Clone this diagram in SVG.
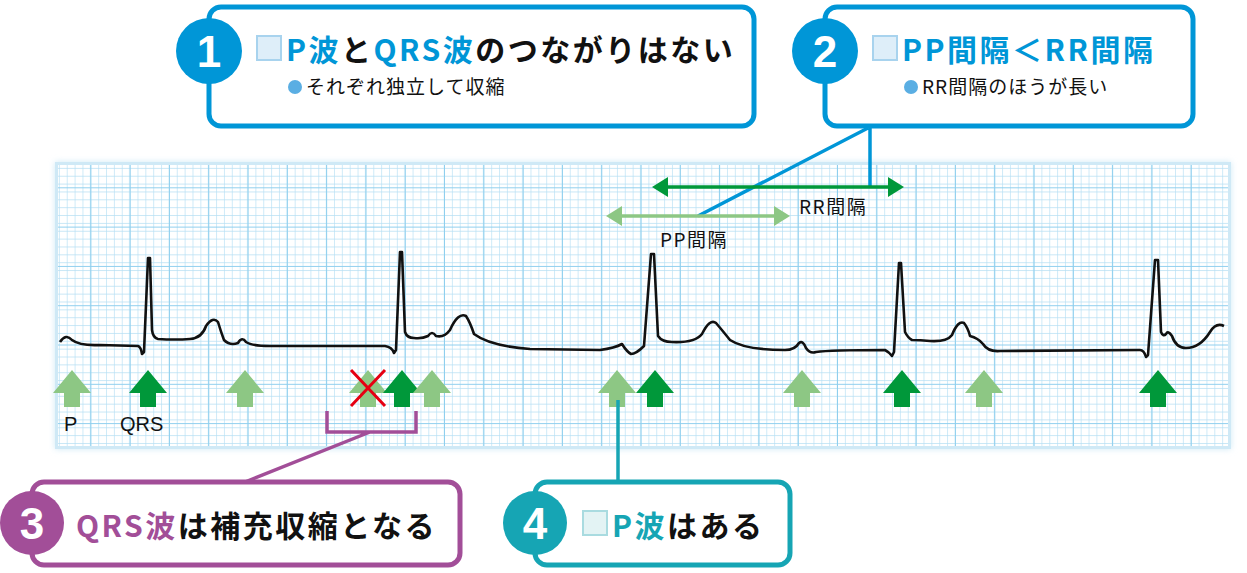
<svg xmlns="http://www.w3.org/2000/svg" width="1247" height="573" viewBox="0 0 1247 573">
<defs>
<style>
.jp{font-family:"Noto Sans CJK JP","Liberation Sans",sans-serif}
.lbl{font-family:"Liberation Sans","Noto Sans CJK JP",sans-serif;font-size:20px;fill:#111}
.box{fill:#fff;stroke-width:5}
.num{font-family:"Liberation Sans",sans-serif;font-weight:bold;font-size:44px;fill:#fff;text-anchor:middle}
.pa{fill:#8dc784}.qa{fill:#00983a}
.t{font-size:30px;font-weight:bold;letter-spacing:2.5px}
.s{font-size:19px;fill:#111;letter-spacing:1px}
</style>
<pattern id="minor" width="7.86" height="7.86" patternUnits="userSpaceOnUse" x="52" y="161">
<path d="M7.86 0V7.86M0 7.86H7.86" stroke="#b6dff4" stroke-width="1.3" fill="none"/>
</pattern>
<pattern id="major" width="39.3" height="39.3" patternUnits="userSpaceOnUse" x="52" y="149">
<path d="M39.3 0V39.3M0 39.3H39.3" stroke="#8fcfee" stroke-width="2.2" fill="none"/>
</pattern>
<path id="arr" d="M-19 23L0 0L19 23H8V37H-8V23Z"/>
<filter id="sh" x="-5%" y="-10%" width="110%" height="120%"><feGaussianBlur stdDeviation="3"/></filter>
</defs>
<rect width="1247" height="573" fill="#fff"/>
<g id="grid">
<rect x="55" y="162" width="1176" height="287" fill="#cfe9f6" filter="url(#sh)"/>
<rect x="55" y="162" width="1176" height="287" fill="#fff"/>
<rect x="58" y="165" width="1170" height="281" fill="url(#minor)"/>
<rect x="58" y="165" width="1170" height="281" fill="url(#major)"/>
<rect x="56.5" y="163.5" width="1173" height="284" fill="none" stroke="#cfe9f6" stroke-width="3"/>
</g>
<path id="ecg" fill="none" stroke="#111" stroke-width="2.6" stroke-linejoin="round" d="M60 342Q66 333 72 340Q80 346 100 345L138 346Q141 347 142 354L144 352L148 258L150 258L152 330Q153 338 158 339Q175 340 190 339Q202 338 206 326Q213 316 218 322Q221 332 224 340Q230 346 238 343Q242 336 246 342Q252 346 270 346L385 346Q392 347 394 353L396 350L400 252L402 252L405 332Q407 338 414 338Q422 339 428 336Q432 330 436 336Q444 338 450 330Q458 312 466 316Q470 322 474 334Q490 346 530 349L600 350Q615 348 622 344Q627 352 631 354Q636 354 644 346L651 254L654 254L658 336Q662 342 672 342Q695 343 702 334Q710 318 716 323Q722 330 730 340Q745 350 785 350Q795 350 799 343Q803 340 806 348Q810 354 816 352Q830 350 885 350Q889 352 892 356L894 352L899 263L901 263L905 332Q908 338 912 340Q920 340 930 341Q947 342 952 335Q958 320 964 323Q968 328 970 336Q978 338 983 344Q988 352 1000 351L1140 350Q1144 350 1146 357L1148 355L1155 260L1158 260L1161 332Q1163 337 1166 334Q1168 330 1172 336Q1176 348 1186 348Q1200 348 1210 332Q1216 322 1224 326"/>
<g id="arrows">
<use href="#arr" class="pa" x="72" y="370"/>
<use href="#arr" class="qa" x="148" y="370"/>
<use href="#arr" class="pa" x="245" y="370"/>
<use href="#arr" class="pa" x="368" y="370"/>
<use href="#arr" class="qa" x="402" y="370"/>
<use href="#arr" class="pa" x="432" y="370"/>
<use href="#arr" class="pa" x="617" y="370"/>
<use href="#arr" class="qa" x="655" y="370"/>
<use href="#arr" class="pa" x="802" y="370"/>
<use href="#arr" class="qa" x="902" y="370"/>
<use href="#arr" class="pa" x="984" y="370"/>
<use href="#arr" class="qa" x="1158" y="370"/>
<path d="M351 370L385 406M385 370L351 406" stroke="#e60012" stroke-width="3"/>
</g>
<text class="lbl" x="64" y="431">P</text>
<text class="lbl" x="120" y="431">QRS</text>
<g id="connectors" fill="none">
<path d="M327 411V432H416V411M370 432L245 482" stroke="#a24e98" stroke-width="3.5"/>
<path d="M618 400V485" stroke="#16a5b4" stroke-width="3.5"/>
<path d="M870 127V187M868 128L698 216" stroke="#0096d7" stroke-width="3.5"/>
<path d="M662 187H892" stroke="#00983a" stroke-width="3.5"/>
<path d="M652 187L668 177V197ZM904 187L888 177V197Z" fill="#00983a"/>
<path d="M616 216H778" stroke="#8dc784" stroke-width="3.5"/>
<path d="M606 216L622 206V226ZM790 216L774 206V226Z" fill="#8dc784"/>
</g>
<text class="jp" x="799" y="214" font-size="19" fill="#111" letter-spacing="1.5">RR間隔</text>
<text class="jp" x="660" y="247" font-size="19" fill="#111" letter-spacing="1.5">PP間隔</text>
<g id="node1">
<rect class="box" x="209" y="7" width="545" height="119" rx="12" stroke="#0096d7"/>
<circle cx="209" cy="51" r="33" fill="#0096d7"/>
<text class="num" x="209" y="67">1</text>
<rect x="257" y="36" width="24" height="24" fill="#deeef9" stroke="#a8d3ee" stroke-width="2"/>
<text class="jp t" x="286" y="61" fill="#0096d7">P波<tspan fill="#111">と</tspan>QRS波<tspan fill="#111">のつながりはない</tspan></text>
<circle cx="295" cy="87" r="7" fill="#5aaee3"/>
<text class="jp s" x="306" y="94">それぞれ独立して収縮</text>
</g>
<g id="node2">
<rect class="box" x="825" y="7" width="368" height="119" rx="12" stroke="#0096d7"/>
<circle cx="825" cy="51" r="33" fill="#0096d7"/>
<text class="num" x="825" y="67">2</text>
<rect x="873" y="36" width="24" height="24" fill="#deeef9" stroke="#a8d3ee" stroke-width="2"/>
<text class="jp t" x="902" y="61" fill="#0096d7">PP間隔＜RR間隔</text>
<circle cx="911" cy="87" r="7" fill="#5aaee3"/>
<text class="jp s" x="922" y="94">RR間隔のほうが長い</text>
</g>
<g id="node3">
<rect class="box" x="32" y="482" width="428" height="83" rx="12" stroke="#a24e98"/>
<circle cx="32" cy="523" r="32" fill="#a24e98"/>
<text class="num" x="32" y="539">3</text>
<text class="jp t" x="76" y="537" fill="#a24e98">QRS波<tspan fill="#111">は補充収縮となる</tspan></text>
</g>
<g id="node4">
<rect class="box" x="535" y="482" width="255" height="83" rx="12" stroke="#16a5b4"/>
<circle cx="535" cy="523" r="32" fill="#16a5b4"/>
<text class="num" x="535" y="539">4</text>
<rect x="583" y="511" width="24" height="24" fill="#e3f3f4" stroke="#a9dbe0" stroke-width="2"/>
<text class="jp t" x="612" y="537" fill="#16a5b4">P波<tspan fill="#111">はある</tspan></text>
</g>
</svg>
